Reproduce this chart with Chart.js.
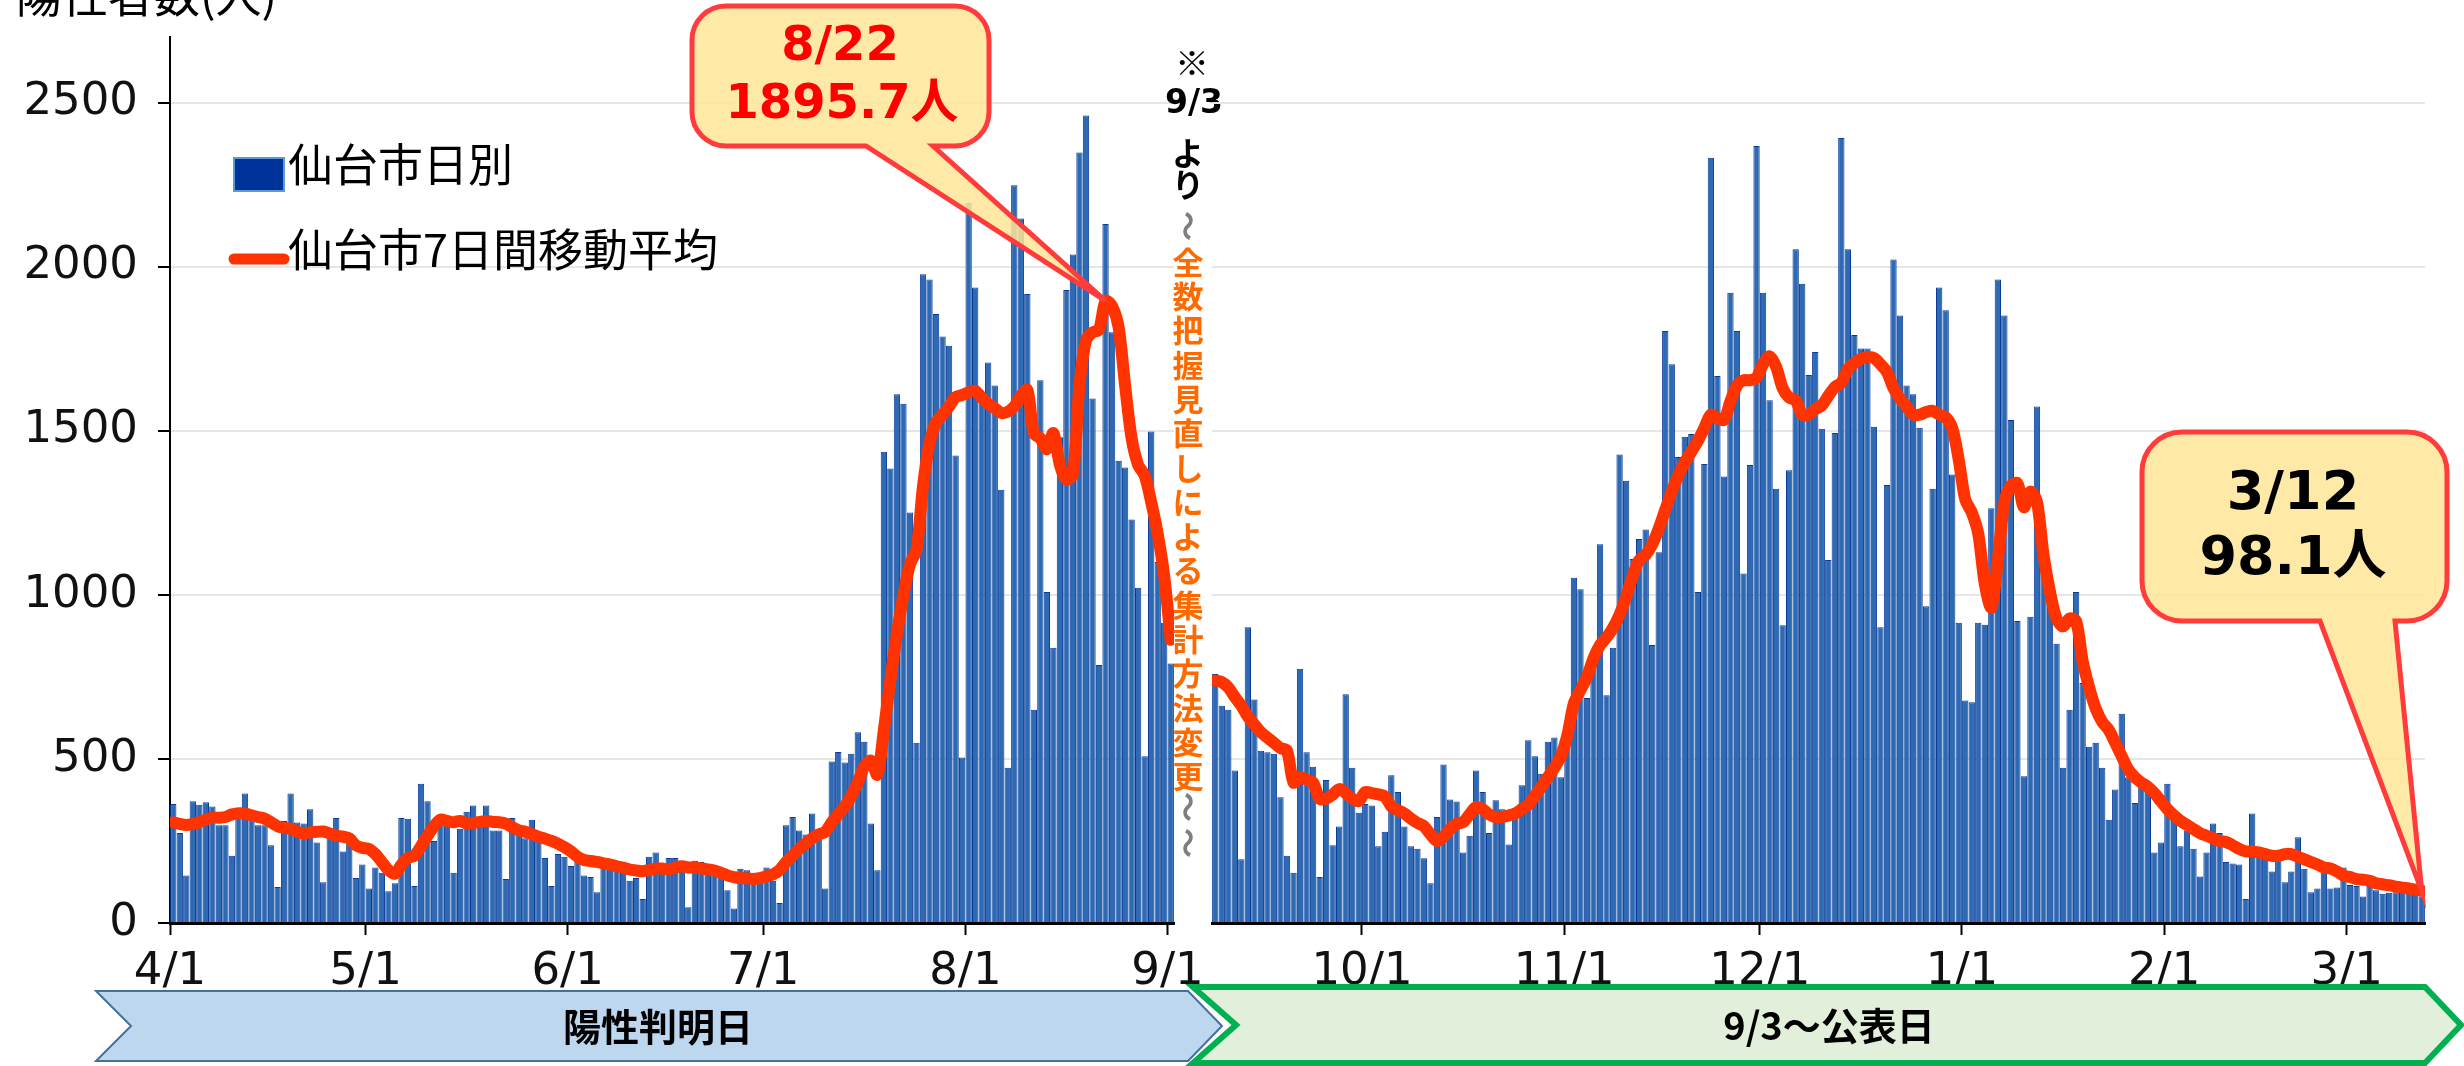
<!DOCTYPE html>
<html lang="ja">
<head>
<meta charset="utf-8">
<title>仙台市 陽性者数</title>
<script src="https://cdn.jsdelivr.net/npm/chart.js@4.4.1/dist/chart.umd.min.js"></script>
<style>
  html, body { margin: 0; padding: 0; background: #fff; }
  #wrap { position: relative; width: 2464px; height: 1066px; overflow: hidden; background: #fff; }
  #wrap canvas { position: absolute; left: 0; top: 0; }
</style>
</head>
<body>
<div id="wrap">
  <canvas id="leftChart" width="2464" height="1066"></canvas>
  <canvas id="rightChart" width="2464" height="1066"></canvas>
</div>
<script>
// left panel: one bar per day from 4/1 to 9/1 (陽性判明日)
const leftTickDays = [0, 30, 61, 91, 122, 153];
const leftTickLabels = ['4/1', '5/1', '6/1', '7/1', '8/1', '9/1'];
const leftDaily = [
  363, 274, 145, 371, 360, 368, 355, 298, 298, 205,
  352, 395, 315, 298, 298, 237, 110, 311, 395, 306,
  303, 347, 245, 124, 270, 320, 218, 274, 137, 178,
  105, 169, 153, 97, 121, 320, 318, 113, 424, 371,
  250, 323, 298, 153, 287, 339, 358, 323, 358, 282,
  282, 134, 320, 298, 258, 315, 250, 198, 113, 210,
  202, 174, 202, 145, 140, 94, 194, 186, 178, 186,
  129, 137, 73, 202, 215, 178, 198, 198, 180, 48,
  190, 186, 174, 169, 145, 100, 44, 165, 161, 153,
  153, 169, 129, 61, 298, 323, 282, 270, 334, 258,
  105, 492, 521, 489, 516, 581, 552, 303, 161, 1436,
  1385, 1611, 1582, 1251, 549, 1977, 1961, 1856, 1787, 1759,
  1425, 504, 2195, 1937, 1590, 1708, 1638, 1320, 473, 2248,
  2147, 1917, 650, 1654, 1009, 839, 1480, 1929, 2037, 2348,
  2461, 1598, 786, 2130, 1800, 1409, 1388, 1230, 1022, 508,
  1498, 1100, 915, 791
];
const leftAvg = [
  307, 302, 299, 302, 307, 315, 321, 321, 323, 331,
  334, 334, 328, 323, 318, 307, 295, 290, 287, 278,
  273, 276, 278, 279, 273, 266, 263, 258, 237, 229,
  226, 210, 186, 161, 150, 178, 198, 205, 234, 266,
  295, 315, 311, 307, 311, 303, 305, 308, 311, 308,
  307, 303, 292, 282, 278, 271, 263, 257, 250, 242,
  231, 218, 202, 192, 189, 186, 182, 178, 173, 169,
  163, 160, 158, 161, 166, 166, 163, 169, 173, 169,
  169, 166, 163, 160, 153, 145, 140, 137, 136, 134,
  137, 142, 148, 161, 186, 205, 226, 242, 258, 270,
  278, 307, 331, 355, 387, 428, 476, 495, 452, 589,
  742, 880, 1000, 1093, 1138, 1331, 1461, 1525, 1549, 1574,
  1603, 1609, 1617, 1622, 1601, 1582, 1569, 1554, 1558, 1574,
  1606, 1625, 1493, 1477, 1444, 1493, 1396, 1351, 1367, 1638,
  1775, 1800, 1808, 1896, 1880, 1816, 1638, 1477, 1396, 1364,
  1283, 1186, 1057, 863
];

// right panel: one bar per day from 9/8 to 3/12 (公表日)
const rightTickDays = [23, 54, 84, 115, 146, 174];
const rightTickLabels = ['10/1', '11/1', '12/1', '1/1', '2/1', '3/1'];
const rightDaily = [
  759, 662, 650, 465, 194, 901, 681, 525, 520, 516,
  383, 205, 153, 775, 520, 476, 140, 436, 237, 294,
  697, 473, 336, 363, 358, 234, 278, 450, 399, 294,
  234, 226, 197, 121, 323, 483, 376, 370, 215, 266,
  465, 399, 274, 374, 347, 239, 340, 420, 557, 508,
  455, 552, 565, 444, 605, 1052, 1017, 686, 823, 1154,
  694, 839, 1428, 1348, 1109, 1170, 1199, 847, 1130, 1804,
  1703, 1420, 1482, 1490, 1009, 1399, 2332, 1667, 1361, 1921,
  1804, 1065, 1396, 2368, 1921, 1593, 1323, 907, 1380, 2053,
  1948, 1670, 1740, 1506, 1106, 1493, 2392, 2053, 1792, 1751,
  1751, 1512, 901, 1335, 2022, 1851, 1638, 1611, 1509, 965,
  1323, 1937, 1867, 1367, 915, 678, 673, 915, 909, 1264,
  1961, 1851, 1533, 920, 447, 933, 1574, 1073, 985, 851,
  473, 650, 1009, 731, 537, 549, 473, 315, 407, 638,
  444, 366, 415, 399, 215, 245, 424, 311, 234, 282,
  226, 142, 215, 303, 274, 186, 181, 178, 73, 334,
  229, 221, 157, 215, 124, 157, 261, 165, 94, 105,
  181, 105, 108, 169, 116, 113, 81, 113, 100, 89,
  92, 94, 124, 105, 97, 81
];
const rightAvg = [
  739, 734, 718, 689, 662, 629, 605, 581, 565, 549,
  533, 525, 428, 444, 437, 428, 379, 379, 391, 408,
  396, 379, 371, 399, 396, 392, 386, 355, 344, 334,
  318, 305, 295, 270, 250, 263, 286, 302, 307, 331,
  353, 347, 331, 323, 323, 328, 334, 347, 360, 387,
  415, 444, 473, 508, 573, 670, 710, 750, 807, 847,
  870, 900, 940, 993, 1057, 1106, 1122, 1154, 1202, 1259,
  1315, 1364, 1404, 1436, 1469, 1509, 1549, 1538, 1533, 1590,
  1638, 1654, 1654, 1662, 1703, 1727, 1695, 1630, 1601, 1593,
  1549, 1549, 1566, 1577, 1606, 1633, 1646, 1687, 1706, 1719,
  1725, 1722, 1703, 1679, 1630, 1598, 1574, 1549, 1549, 1557,
  1561, 1549, 1541, 1509, 1412, 1291, 1251, 1186, 1033, 961,
  1106, 1283, 1332, 1340, 1267, 1315, 1283, 1122, 1009, 928,
  904, 928, 920, 799, 718, 654, 613, 589, 549, 508,
  468, 444, 428, 415, 396, 371, 347, 328, 311, 299,
  286, 274, 266, 258, 250, 247, 237, 226, 218, 218,
  215, 210, 205, 205, 210, 210, 202, 194, 186, 178,
  169, 166, 157, 145, 140, 134, 132, 129, 121, 118,
  115, 111, 108, 105, 102, 98
];

const yTicks = [0, 500, 1000, 1500, 2000, 2500];
const yMax = 2700;

// callouts: day index in its panel plus the text shown
const peakDay = 143;
const peakText = ['8/22', '1895.7人'];
const lastText = ['3/12', '98.1人'];

const PAGE_W = 2464, PAGE_H = 1066;
const AREA_TOP = 37, AREA_BOTTOM = 923;
const LEFT_AREA = { left: 170, right: 1174 };
const RIGHT_AREA = { left: 1212, right: 2425 };

const barFill = '#2C6AB3';
const barEdge = '#0B3A9A';
const avgColor = '#FF3300';
const jp = '"Noto Sans CJK JP", sans-serif';
const latin = '"DejaVu Sans", "Noto Sans CJK JP", sans-serif';

Chart.defaults.font.family = latin;
Chart.defaults.color = '#111';

function makeDatasets(daily, avg) {
    return [
        {
            type: 'line',
            label: '仙台市7日間移動平均',
            data: avg.map((v, i) => ({ x: i + 0.5, y: v })),
            borderColor: avgColor,
            borderWidth: 12,
            pointRadius: 0,
            tension: 0.3,
            borderJoinStyle: 'round',
            borderCapStyle: 'round',
            order: 0
        },
        {
            type: 'bar',
            label: '仙台市日別',
            data: daily.map((v, i) => ({ x: i + 0.5, y: v })),
            backgroundColor: barFill,
            borderColor: barEdge,
            borderWidth: 1,
            barPercentage: 0.97,
            categoryPercentage: 1,
            order: 1
        }
    ];
}

function makeScales(days, tickDays, tickLabels, showY) {
    return {
        x: {
            type: 'linear',
            min: 0,
            max: days,
            offset: false,
            afterBuildTicks: s => { s.ticks = tickDays.map(v => ({ value: v })); },
            afterFit: s => { s.height = PAGE_H - AREA_BOTTOM; s.paddingLeft = 0; s.paddingRight = 0; },
            ticks: {
                autoSkip: false,
                maxRotation: 0,
                padding: 10,
                color: '#111',
                font: { size: 45 },
                callback: (v, i) => tickLabels[i]
            },
            grid: { offset: false, drawOnChartArea: false, drawTicks: true, tickLength: 12, tickWidth: 2, tickColor: '#000' },
            border: { display: true, color: '#000', width: 3 }
        },
        y: {
            min: 0,
            max: yMax,
            afterBuildTicks: s => { s.ticks = yTicks.map(v => ({ value: v })); },
            afterFit: s => { s.width = showY ? LEFT_AREA.left : 0; s.paddingTop = 0; s.paddingBottom = 0; },
            ticks: { display: showY, padding: 20, color: '#111', font: { size: 45 }, callback: v => String(v) },
            grid: { color: '#e6e6e6', lineWidth: 2, drawTicks: showY, tickLength: 12, tickColor: '#000', tickWidth: 2 },
            border: { display: showY, color: '#000', width: 2 }
        }
    };
}

function drawCallout(ctx, box, baseL, baseR, tip, lines, color, font) {
    const { x, y, w, h, r } = box;
    ctx.save();
    ctx.beginPath();
    ctx.moveTo(x + r, y);
    ctx.lineTo(x + w - r, y);
    ctx.arcTo(x + w, y, x + w, y + r, r);
    ctx.lineTo(x + w, y + h - r);
    ctx.arcTo(x + w, y + h, x + w - r, y + h, r);
    ctx.lineTo(baseR, y + h);
    ctx.lineTo(tip.x, tip.y);
    ctx.lineTo(baseL, y + h);
    ctx.lineTo(x + r, y + h);
    ctx.arcTo(x, y + h, x, y + h - r, r);
    ctx.lineTo(x, y + r);
    ctx.arcTo(x, y, x + r, y, r);
    ctx.closePath();
    ctx.fillStyle = 'rgba(255, 229, 150, 0.85)';
    ctx.fill();
    ctx.lineWidth = 5;
    ctx.strokeStyle = '#FF3B3B';
    ctx.stroke();
    ctx.fillStyle = color;
    ctx.font = font;
    ctx.textAlign = 'center';
    ctx.textBaseline = 'alphabetic';
    lines.forEach(l => ctx.fillText(l.t, l.x, l.y));
    ctx.restore();
}

function drawBanner(ctx, b) {
    const { x0, x1, tip, notch, top, bottom } = b;
    const mid = (top + bottom) / 2;
    ctx.save();
    ctx.beginPath();
    ctx.moveTo(x0, top);
    ctx.lineTo(x1, top);
    ctx.lineTo(tip, mid);
    ctx.lineTo(x1, bottom);
    ctx.lineTo(x0, bottom);
    ctx.lineTo(notch, mid);
    ctx.closePath();
    ctx.fillStyle = b.fill;
    ctx.fill();
    ctx.lineWidth = b.lineWidth;
    ctx.strokeStyle = b.stroke;
    ctx.lineJoin = 'miter';
    ctx.stroke();
    ctx.fillStyle = '#000';
    ctx.font = 'bold 38px ' + jp;
    ctx.textAlign = 'center';
    ctx.textBaseline = 'middle';
    ctx.fillText(b.text, b.textX, mid + 1);
    ctx.restore();
}

function drawNote(ctx) {
    const cx = 1188;
    ctx.save();
    ctx.textAlign = 'center';
    ctx.textBaseline = 'middle';
    ctx.fillStyle = '#000';
    ctx.font = '34px ' + jp;
    ctx.fillText('※', cx + 4, 63);
    ctx.font = 'bold 33px ' + latin;
    ctx.fillText('9/3', cx + 6, 104);
    ctx.font = 'bold 32px ' + jp;
    ctx.fillText('よ', cx, 153);
    ctx.fillText('り', cx, 185);
    const wave = y => {
        ctx.save();
        ctx.translate(cx, y);
        ctx.rotate(Math.PI / 2);
        ctx.fillStyle = '#7F7F7F';
        ctx.font = 'bold 30px ' + jp;
        ctx.fillText('～', 0, 0);
        ctx.restore();
    };
    wave(226);
    ctx.fillStyle = '#FF6A00';
    ctx.font = 'bold 31px ' + jp;
    Array.from('全数把握見直しによる集計方法変更').forEach((c, k) => {
        ctx.fillText(c, cx, 262 + k * 34.3);
    });
    wave(807);
    wave(843);
    ctx.restore();
}

const leftDecor = {
    id: 'leftDecor',
    afterDraw(chart) {
        const ctx = chart.ctx;
        const xs = chart.scales.x, ys = chart.scales.y;
        const lineSet = chart.data.datasets[0];
        const barSet = chart.data.datasets[1];

        // y axis title, cut off at the top edge
        ctx.save();
        ctx.font = '46px ' + jp;
        ctx.fillStyle = '#000';
        ctx.textAlign = 'right';
        ctx.textBaseline = 'alphabetic';
        ctx.fillText('陽性者数(人)', 277, 12);

        // legend
        ctx.textAlign = 'left';
        ctx.font = '45px ' + jp;
        ctx.fillStyle = '#003399';
        ctx.fillRect(234, 158, 50, 33);
        ctx.strokeStyle = '#5B9BD5';
        ctx.lineWidth = 2;
        ctx.strokeRect(234, 158, 50, 33);
        ctx.fillStyle = '#000';
        ctx.fillText(barSet.label, 288, 182);
        ctx.strokeStyle = lineSet.borderColor;
        ctx.lineWidth = 11;
        ctx.lineCap = 'round';
        ctx.beginPath();
        ctx.moveTo(234, 259);
        ctx.lineTo(284, 259);
        ctx.stroke();
        ctx.fillText(lineSet.label, 288, 267);
        ctx.restore();

        drawNote(ctx);

        const tip = { x: xs.getPixelForValue(peakDay + 0.5), y: ys.getPixelForValue(leftAvg[peakDay]) };
        drawCallout(ctx, { x: 692, y: 6, w: 297, h: 140, r: 34 }, 866, 933, tip,
            [{ t: peakText[0], x: 840, y: 60 }, { t: peakText[1], x: 842, y: 118 }],
            '#FF0000', 'bold 48px ' + latin);

        drawBanner(ctx, {
            x0: 96, x1: 1188, tip: 1222, notch: 131, top: 991, bottom: 1061,
            fill: '#BDD7EE', stroke: '#41719C', lineWidth: 2,
            text: '陽性判明日', textX: 658
        });
    }
};

const rightDecor = {
    id: 'rightDecor',
    afterDraw(chart) {
        const ctx = chart.ctx;
        const xs = chart.scales.x, ys = chart.scales.y;
        const last = rightAvg.length - 1;
        const tip = { x: xs.getPixelForValue(last + 0.5), y: ys.getPixelForValue(rightAvg[last]) };
        drawCallout(ctx, { x: 2142, y: 432, w: 305, h: 189, r: 40 }, 2320, 2395, tip,
            [{ t: lastText[0], x: 2293, y: 509 }, { t: lastText[1], x: 2293, y: 574 }],
            '#000', 'bold 54px ' + latin);

        drawBanner(ctx, {
            x0: 1193, x1: 2425, tip: 2461, notch: 1236, top: 987, bottom: 1063,
            fill: '#E2EFDA', stroke: '#00B050', lineWidth: 6,
            text: '9/3～公表日', textX: 1829
        });
    }
};

document.addEventListener('DOMContentLoaded', function() {
    const common = {
        responsive: false,
        animation: false,
        events: [],
        plugins: { legend: { display: false }, tooltip: { enabled: false } }
    };

    new Chart(document.getElementById('leftChart').getContext('2d'), {
        type: 'bar',
        data: { datasets: makeDatasets(leftDaily, leftAvg) },
        options: Object.assign({}, common, {
            layout: { padding: { left: 0, top: AREA_TOP, right: PAGE_W - LEFT_AREA.right, bottom: 0 } },
            scales: makeScales(leftDaily.length, leftTickDays, leftTickLabels, true)
        }),
        plugins: [leftDecor]
    });

    new Chart(document.getElementById('rightChart').getContext('2d'), {
        type: 'bar',
        data: { datasets: makeDatasets(rightDaily, rightAvg) },
        options: Object.assign({}, common, {
            layout: { padding: { left: RIGHT_AREA.left, top: AREA_TOP, right: PAGE_W - RIGHT_AREA.right, bottom: 0 } },
            scales: makeScales(rightDaily.length, rightTickDays, rightTickLabels, false)
        }),
        plugins: [rightDecor]
    });
});
</script>
</body>
</html>
